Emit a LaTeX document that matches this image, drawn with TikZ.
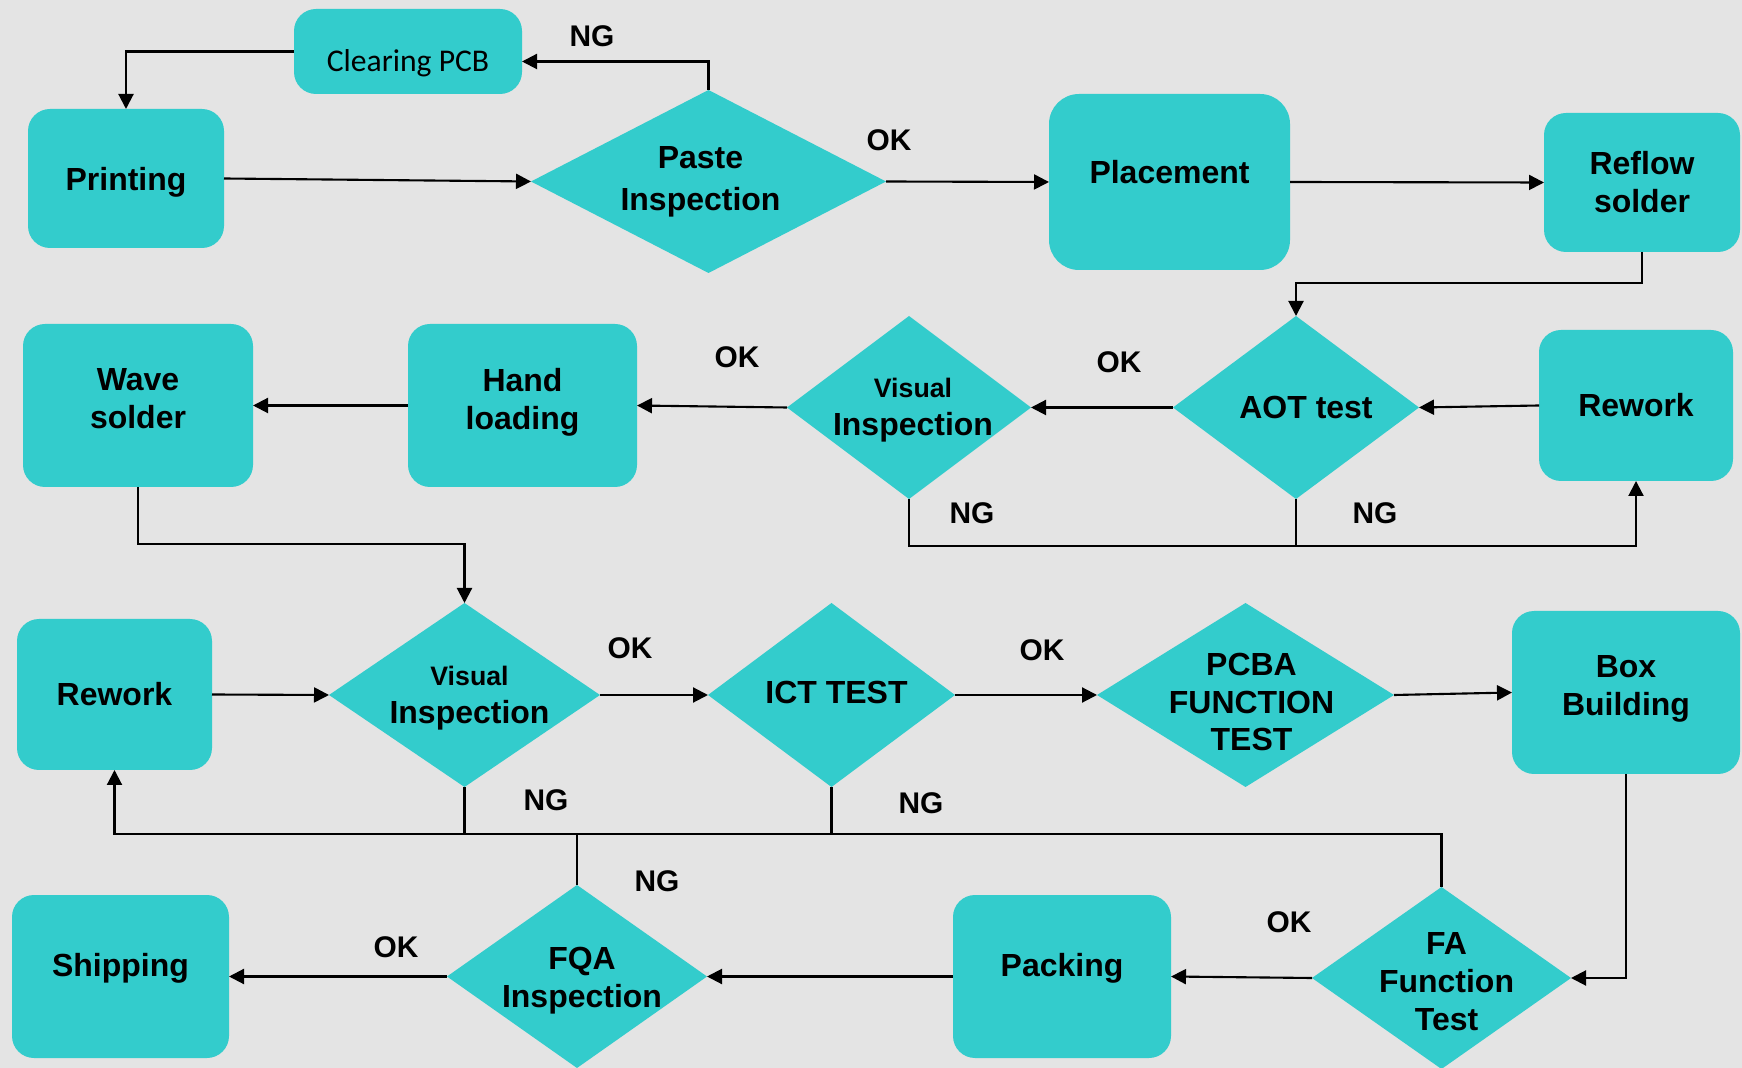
\documentclass[tikz,border=0pt]{standalone}
\usepackage{fontspec}
\setmainfont{Liberation Sans}
\newfontfamily\calibrifont{Carlito}
\usetikzlibrary{shapes.geometric,arrows.meta}
\definecolor{boxfill}{RGB}{51,204,204}
\definecolor{backgr}{RGB}{228,228,228}
\begin{document}
\begin{tikzpicture}[x=0.1mm,y=-0.1mm,
  every node/.style={font=\fontsize{9.1}{10.8}\selectfont\bfseries},
  proc/.style={rectangle,rounded corners=2.2mm,fill=boxfill,align=center,inner sep=0pt,outer sep=0pt},
  dia/.style={diamond,fill=boxfill,inner sep=0pt,outer sep=0pt},
  dtext/.style={align=center},
  tag/.style={font=\fontsize{8.5}{10}\selectfont\bfseries},
  lift/.style={text depth=#1},
  flow/.style={-{Triangle[length=1.5mm,width=1.5mm]},line width=0.6pt},
  link/.style={line width=0.6pt}]
  \fill[backgr] (0,0) rectangle (1742,1068);
  \useasboundingbox (0,0) rectangle (1742,1068);
  \node[proc,minimum width=22.8mm,minimum height=8.5mm,text height=13pt,font=\calibrifont\fontsize{9}{11}\selectfont] (clear) at (408,51.5) {Clearing PCB};
  \node[proc,minimum width=19.6mm,minimum height=13.9mm,lift=0pt] (print) at (126,178.5) {Printing};
  \node[dia,minimum width=35.5mm,minimum height=18.3mm,label={[dtext,xshift=-0.8mm,font=\fontsize{9.1}{12}\selectfont\bfseries]center:Paste\\Inspection}] (paste) at (708.5,181.5) {};
  \node[proc,minimum width=24.1mm,minimum height=17.6mm,rounded corners=3mm,lift=5.7pt] (place) at (1169.5,182) {Placement};
  \node[proc,minimum width=19.6mm,minimum height=13.9mm] (reflow) at (1642,182.5) {Reflow\\solder};
  \node[dia,minimum width=24.6mm,minimum height=18.3mm,label={[dtext,xshift=1mm]center:AOT test}] (aot) at (1296,407.5) {};
  \node[proc,minimum width=19.4mm,minimum height=15.1mm] (rework1) at (1636,405.5) {Rework};
  \node[dia,minimum width=24.4mm,minimum height=18.3mm,label={[dtext,xshift=0.4mm,yshift=-0.3mm]center:{\fontsize{7.6}{10.8}\selectfont Visual}\\Inspection}] (vis1) at (909,407.5) {};
  \node[proc,minimum width=22.9mm,minimum height=16.3mm,lift=4pt] (hand) at (522.5,405.5) {Hand\\loading};
  \node[proc,minimum width=23mm,minimum height=16.3mm,lift=4pt] (wave) at (138,405.5) {Wave\\solder};
  \node[proc,minimum width=19.5mm,minimum height=15.1mm] (rework2) at (114.5,694.5) {Rework};
  \node[dia,minimum width=27.1mm,minimum height=18.4mm,label={[dtext,xshift=0.5mm,yshift=-0.3mm]center:{\fontsize{7.6}{10.8}\selectfont Visual}\\Inspection}] (vis2) at (464.5,695) {};
  \node[dia,minimum width=24.7mm,minimum height=18.4mm,label={[dtext,xshift=0.5mm,yshift=0.3mm]center:ICT TEST}] (ict) at (831.5,695) {};
  \node[dia,minimum width=29.7mm,minimum height=18.4mm,label={[dtext,xshift=0.6mm,yshift=-0.7mm]center:PCBA\\FUNCTION\\TEST}] (pcba) at (1245.5,695) {};
  \node[proc,minimum width=22.8mm,minimum height=16.3mm,lift=4pt] (box) at (1626,692.5) {Box\\Building};
  \node[dia,minimum width=25.9mm,minimum height=18.2mm,label={[dtext,xshift=0.5mm,yshift=-0.4mm]center:FA\\Function\\Test}] (fa) at (1441.5,978) {};
  \node[proc,minimum width=21.8mm,minimum height=16.3mm,lift=6.8pt] (pack) at (1062,976.5) {Packing};
  \node[dia,minimum width=26mm,minimum height=18.3mm,label={[dtext,xshift=0.5mm,yshift=-0.4mm]center:FQA\\Inspection}] (fqa) at (577,976.5) {};
  \node[proc,minimum width=21.7mm,minimum height=16.3mm,lift=6.8pt] (ship) at (120.5,976.5) {Shipping};
  \node[tag] (ng1) at (592,36) {NG};
  \node[tag] (ok1) at (889,140) {OK};
  \node[tag] (ok2) at (1119,362) {OK};
  \node[tag] (ok3) at (737,357) {OK};
  \node[tag] (ng2) at (972,513) {NG};
  \node[tag] (ng3) at (1375,513) {NG};
  \node[tag] (ok4) at (630,648) {OK};
  \node[tag] (ok5) at (1042,650) {OK};
  \node[tag] (ng4) at (546,800) {NG};
  \node[tag] (ng5) at (921,803) {NG};
  \node[tag] (ng6) at (657,881) {NG};
  \node[tag] (ok6) at (1289,922) {OK};
  \node[tag] (ok7) at (396,947) {OK};
  \coordinate (ngtop) at (0,546);
  \coordinate (ngbot) at (0,834);
  \draw[flow] (print.east) -- (paste.west);
  \draw[flow] (paste.east) -- (place.west);
  \draw[flow] (place.east) -- (reflow.west);
  \draw[flow] (paste.north) |- ([yshift=-1mm]clear.east);
  \draw[flow] (clear.west) -| (print.north);
  \draw[flow] (reflow.south) -- ++(0,31) -| (aot.north);
  \draw[flow] (rework1.west) -- (aot.east);
  \draw[flow] (aot.west) -- (vis1.east);
  \draw[flow] (vis1.west) -- (hand.east);
  \draw[flow] (hand.west) -- (wave.east);
  \draw[flow] (vis1.south) |- (rework1.south |- ngtop) -- (rework1.south);
  \draw[link] (aot.south) -- (aot.south |- ngtop);
  \draw[flow] (wave.south) -- ++(0,57) -| (vis2.north);
  \draw[flow] (rework2.east) -- (vis2.west);
  \draw[flow] (vis2.east) -- (ict.west);
  \draw[flow] (ict.east) -- (pcba.west);
  \draw[flow] (pcba.east) -- (box.west);
  \draw[flow] (box.south) |- (fa.east);
  \draw[flow] (fa.west) -- (pack.east);
  \draw[flow] (pack.west) -- (fqa.east);
  \draw[flow] (fqa.west) -- (ship.east);
  \draw[flow] (fa.north) |- (rework2.south |- ngbot) -- (rework2.south);
  \draw[link] (fqa.north) -- (fqa.north |- ngbot);
  \draw[link] (vis2.south) -- (vis2.south |- ngbot);
  \draw[link] (ict.south) -- (ict.south |- ngbot);
\end{tikzpicture}
\end{document}
